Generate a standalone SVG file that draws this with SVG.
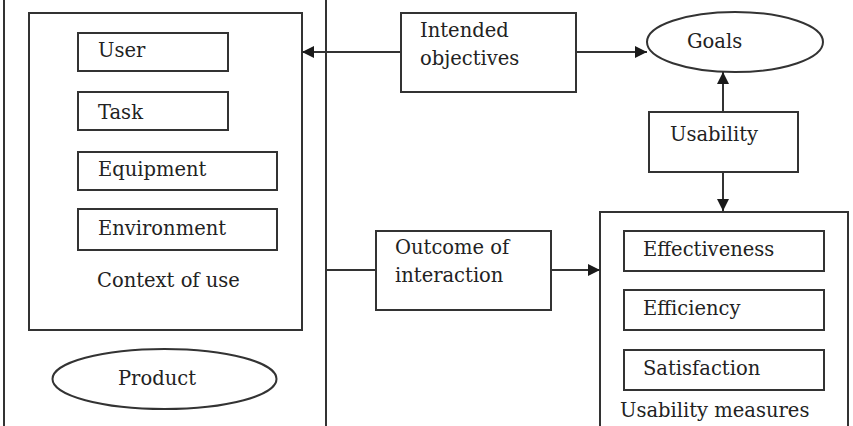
<svg xmlns="http://www.w3.org/2000/svg" width="853" height="426" viewBox="0 0 853 426">
<style>
.b{fill:#fff;stroke:#333;stroke-width:2}
.c{fill:none;stroke:#333;stroke-width:2}
text{font-family:"DejaVu Serif","Liberation Serif",serif;font-size:19.5px;fill:#222}
</style>
<defs>
<marker id="ah" viewBox="0 0 10 10" refX="10" refY="5" markerWidth="13" markerHeight="12" orient="auto-start-reverse" markerUnits="userSpaceOnUse">
<path d="M0,0 L10,5 L0,10 z" fill="#1a1a1a"/>
</marker>
</defs>
<rect width="853" height="426" fill="#fff"/>
<g id="product-frame"><rect class="b" x="4" y="-10" width="322" height="450"/></g>
<g id="context"><rect class="b" x="29" y="13" width="273" height="317"/><text x="97" y="287">Context of use</text></g>
<g id="user"><rect class="b" x="78" y="33" width="150" height="38"/><text x="98" y="57">User</text></g>
<g id="task"><rect class="b" x="78" y="92" width="150" height="38"/><text x="98" y="119">Task</text></g>
<g id="equipment"><rect class="b" x="78" y="152" width="199" height="38"/><text x="98" y="176">Equipment</text></g>
<g id="environment"><rect class="b" x="78" y="209" width="199" height="41"/><text x="98" y="235">Environment</text></g>
<g id="product"><ellipse class="b" cx="164.5" cy="379" rx="112" ry="30"/><text x="118" y="385">Product</text></g>
<g id="intended"><rect class="b" x="401" y="13" width="175" height="79"/><text x="420" y="37">Intended</text><text x="420" y="65">objectives</text></g>
<g id="goals"><ellipse class="b" cx="735" cy="42" rx="88" ry="30"/><text x="687" y="48">Goals</text></g>
<g id="usability"><rect class="b" x="649" y="112" width="149" height="60"/><text x="670" y="141">Usability</text></g>
<g id="outcome"><rect class="b" x="376" y="231" width="175" height="79"/><text x="395" y="254">Outcome of</text><text x="395" y="282">interaction</text></g>
<g id="measures"><rect class="b" x="600" y="212" width="248" height="230"/><text x="620" y="417">Usability measures</text></g>
<g id="effectiveness"><rect class="b" x="624" y="231" width="200" height="40"/><text x="643" y="256">Effectiveness</text></g>
<g id="efficiency"><rect class="b" x="624" y="290" width="200" height="40"/><text x="643" y="315">Efficiency</text></g>
<g id="satisfaction"><rect class="b" x="624" y="350" width="200" height="40"/><text x="643" y="375">Satisfaction</text></g>
<g id="connectors">
<line class="c" x1="401" y1="52" x2="302" y2="52" marker-end="url(#ah)"/>
<line class="c" x1="576" y1="52" x2="647" y2="52" marker-end="url(#ah)"/>
<line class="c" x1="723" y1="112" x2="723" y2="72" marker-end="url(#ah)"/>
<line class="c" x1="723" y1="172" x2="723" y2="211" marker-end="url(#ah)"/>
<line class="c" x1="326" y1="270" x2="376" y2="270"/>
<line class="c" x1="551" y1="270" x2="600" y2="270" marker-end="url(#ah)"/>
</g>
</svg>
